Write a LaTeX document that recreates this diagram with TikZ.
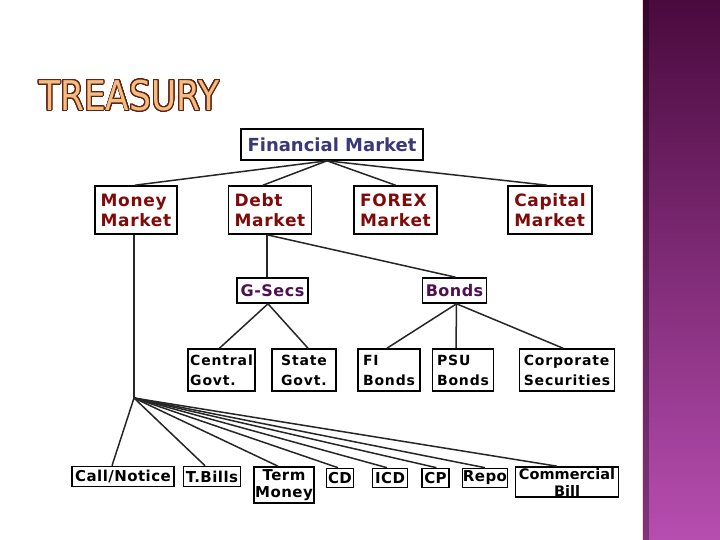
\documentclass[tikz,border=0pt]{standalone}
\usepackage{fontspec}
\setmainfont{DejaVu Sans}
\usepackage{contour}
\contourlength{1.1pt}
\contournumber{32}
\definecolor{finblue}{HTML}{38387A}
\definecolor{maroon}{HTML}{800A0A}
\definecolor{secpurple}{HTML}{4E1050}
\definecolor{panTop}{HTML}{4A0A3E}
\definecolor{panMid}{HTML}{8A3582}
\definecolor{panBot}{HTML}{B64EB0}
\definecolor{titlefill}{HTML}{F5BC80}
\definecolor{titleline}{HTML}{5E2416}
\begin{document}
\begin{tikzpicture}[x=1pt,y=-1pt,
  box/.style={draw=black, line width=1.6pt, fill=white, inner sep=0pt, align=left,
    font=\bfseries\fontsize{14}{20}\selectfont\addfontfeatures{LetterSpace=6}},
  top/.style={box, text=finblue, font=\bfseries\fontsize{18}{20}\selectfont},
  mkt/.style={box, text=maroon, font=\bfseries\fontsize{17}{20}\selectfont\addfontfeatures{LetterSpace=4}},
  sec/.style={box, text=secpurple, font=\bfseries\fontsize{16}{19}\selectfont\addfontfeatures{LetterSpace=3}},
  leaf/.style={box, text=black},
  low/.style={box, text=black, font=\bfseries\fontsize{15}{17}\selectfont\addfontfeatures{LetterSpace=3}},
  conn/.style={line width=1.5pt, draw=black!85}]
\useasboundingbox (0,0) rectangle (720,540);
\fill[white] (0,0) rectangle (720,540);
% right decorative panel
\shade[top color=panTop, middle color=panMid, bottom color=panBot] (642,0) rectangle (720,540);
\fill[black, opacity=0.3] (643,0) rectangle (649,540);
\draw[pink!70!white, line width=0.8pt] (642.4,0) -- (642.4,540);
% title
\node[anchor=west, inner sep=0pt, text=titlefill, font=\fontsize{41}{41}\selectfont] (title) at (39,96)
  {\scalebox{0.84}[1]{\contour{titleline}{TREASURY}}};
% level 1
\node[top, minimum width=182pt, minimum height=31pt] (fin) at (332,144.5) {Financial Market};
% level 2
\node[mkt, minimum width=82pt, minimum height=48pt] (money) at (136,210) {Money\\Market};
\node[mkt, minimum width=83pt, minimum height=48pt] (debt) at (270,210) {Debt\\Market};
\node[mkt, minimum width=83pt, minimum height=48pt] (forex) at (395.5,210) {FOREX\\Market};
\node[mkt, minimum width=84pt, minimum height=48pt] (capital) at (550,210) {Capital\\Market};
% level 3
\node[sec, minimum width=71pt, minimum height=25pt] (gsecs) at (272.5,290.5) {G-Secs};
\node[sec, minimum width=64pt, minimum height=25pt] (bonds) at (454.5,290.5) {Bonds};
% level 4
\node[leaf, minimum width=67pt, minimum height=42pt] (central) at (221.5,370) {Central\\Govt.};
\node[leaf, minimum width=64pt, minimum height=42pt] (state) at (304,370) {State\\Govt.};
\node[leaf, minimum width=62pt, minimum height=42pt] (fi) at (389,370) {FI\\Bonds};
\node[leaf, minimum width=61pt, minimum height=42pt] (psu) at (463,370) {PSU\\Bonds};
\node[leaf, minimum width=95pt, minimum height=42pt] (corp) at (567,370) {Corporate\\Securities};
% money market instruments
\node[low, minimum width=102pt, minimum height=20pt] (call) at (123,476.5) {Call/Notice};
\node[low, minimum width=57pt, minimum height=20pt] (tbills) at (212,476.5) {T.Bills};
\node[low, align=center, minimum width=60pt, minimum height=36pt] (term) at (284,485) {Term\\Money};
\node[low, minimum width=27pt, minimum height=19pt] (cd) at (340,478) {CD};
\node[low, minimum width=35pt, minimum height=19pt] (icd) at (390,478) {ICD};
\node[low, minimum width=27pt, minimum height=19pt] (cp) at (435.5,478) {CP};
\node[low, minimum width=45pt, minimum height=19pt] (repo) at (485,478) {Repo};
\node[low, align=center, minimum width=103pt, minimum height=30pt, font=\bfseries\fontsize{14.5}{17}\selectfont] (comm) at (567,482) {Commercial\\Bill};
% connectors
\coordinate (finbot) at ([xshift=-5pt]fin.south);
\draw[conn] (finbot) -- ([xshift=-1pt]money.north);
\draw[conn] (finbot) -- ([xshift=-7pt]debt.north);
\draw[conn] (finbot) -- (forex.north);
\draw[conn] (finbot) -- ([xshift=-3pt]capital.north);
\coordinate (fan) at (134,398);
\draw[conn] ([xshift=-2pt]money.south) -- (fan);
\coordinate (debtbot) at ([xshift=-3pt]debt.south);
\draw[conn] (debtbot) -- ([xshift=-5.5pt]gsecs.north);
\draw[conn] (debtbot) -- ([xshift=1pt]bonds.north);
\draw[conn] ([xshift=-4.5pt]gsecs.south) -- ([xshift=-2pt]central.north);
\draw[conn] ([xshift=-4.5pt]gsecs.south) -- ([xshift=4pt]state.north);
\draw[conn] ([xshift=2pt]bonds.south) -- ([xshift=-2pt]fi.north);
\draw[conn] ([xshift=2pt]bonds.south) -- ([xshift=-7pt]psu.north);
\draw[conn] ([xshift=2pt]bonds.south) -- ([xshift=-4pt]corp.north);
\draw[conn] (fan) -- ([xshift=-11pt]call.north);
\draw[conn] (fan) -- ([xshift=-7pt]tbills.north);
\draw[conn] (fan) -- ([xshift=-6pt]term.north);
\draw[conn] (fan) -- ([xshift=-2pt]cd.north);
\draw[conn] (fan) -- ([xshift=-3pt]icd.north);
\draw[conn] (fan) -- ([xshift=1pt]cp.north);
\draw[conn] (fan) -- (repo.north);
\draw[conn] (fan) -- ([xshift=-10pt]comm.north);
\end{tikzpicture}
\end{document}
